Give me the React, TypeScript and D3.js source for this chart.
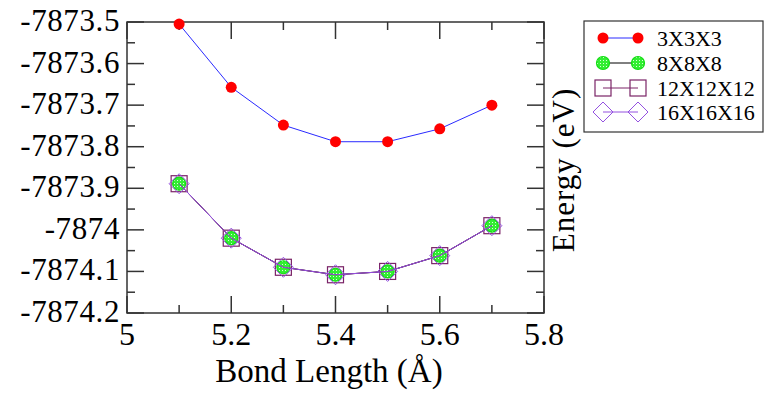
import React from "react";
import * as d3 from "d3";

const bondLengths = [5.1, 5.2, 5.3, 5.4, 5.5, 5.6, 5.7];
const k3 = [-7873.505, -7873.657, -7873.748, -7873.788, -7873.788, -7873.757, -7873.7];
const k8 = [-7873.889, -7874.02, -7874.09, -7874.108, -7874.1, -7874.062, -7873.99];
const k12 = [-7873.889, -7874.02, -7874.09, -7874.108, -7874.1, -7874.062, -7873.99];
const k16 = [-7873.889, -7874.02, -7874.09, -7874.108, -7874.1, -7874.062, -7873.99];
const xTicks = [5, 5.2, 5.4, 5.6, 5.8];
const yTicks = [-7873.5, -7873.6, -7873.7, -7873.8, -7873.9, -7874, -7874.1, -7874.2];
const seriesNames = ["3X3X3", "8X8X8", "12X12X12", "16X16X16"];

const W = 768, H = 398;
const L = 127, R = 544, T = 22, B = 313;
const font = "'Liberation Serif', 'Times New Roman', serif";

type Kind = "circle" | "dotted" | "square" | "diamond";
const styles: { line: string; kind: Kind }[] = [
  { line: "#2a2aff", kind: "circle" },
  { line: "#000000", kind: "dotted" },
  { line: "#7a2367", kind: "square" },
  { line: "#9450e0", kind: "diamond" },
];

function Marker({ kind, x, y }: { kind: Kind; x: number; y: number }) {
  if (kind === "circle") return <circle cx={x} cy={y} r={5.5} fill="#ff0000" />;
  if (kind === "dotted")
    return (
      <g>
        <circle cx={x} cy={y} r={6.5} fill="url(#gpat)" stroke="#11dd11" strokeWidth={1.2} />
      </g>
    );
  if (kind === "square")
    return <rect x={x - 8} y={y - 8} width={16} height={16} fill="none" stroke="#7a2367" strokeWidth={1.2} />;
  const d = 10;
  return (
    <path
      d={`M${x},${y - d}L${x + d},${y}L${x},${y + d}L${x - d},${y}Z`}
      fill="none"
      stroke="#9450e0"
      strokeWidth={1}
    />
  );
}

export default function App() {
  const x = d3.scaleLinear().domain([5, 5.8]).range([L, R]);
  const y = d3.scaleLinear().domain([-7874.2, -7873.5]).range([B, T]);
  const all = [k3, k8, k12, k16];
  const line = d3
    .line<number>()
    .x((_, i) => x(bondLengths[i]))
    .y((v) => y(v));

  const xMinor = d3.range(5, 5.81, 0.1);
  const yMinor = d3.range(-7874.2, -7873.49, 0.05);
  const isMajorX = (v: number) => Math.abs(Math.round(v * 5) - v * 5) < 1e-6;
  const isMajorY = (v: number) => Math.abs(Math.round(v * 10) - v * 10) < 1e-4;

  const legendY = [38, 63, 88, 112];

  return (
    <svg width={W} height={H} style={{ position: "absolute", left: 0, top: 0, background: "#fff" }}>
      <defs>
        <pattern id="gpat" width="3" height="3" patternUnits="userSpaceOnUse">
          <rect width="3" height="3" fill="#33ee33" />
          <rect width="1" height="1" fill="#d8ffd8" />
        </pattern>
      </defs>
      <rect x={0} y={0} width={W} height={H} fill="#fff" />
      {/* ticks */}
      <g stroke="#333" strokeWidth={1.5}>
        {xMinor.map((v, i) => {
          const len = isMajorX(v) ? 17 : 8;
          return (
            <g key={"xt" + i}>
              <line x1={x(v)} x2={x(v)} y1={B} y2={B - len} />
              <line x1={x(v)} x2={x(v)} y1={T} y2={T + len} />
            </g>
          );
        })}
        {yMinor.map((v, i) => {
          const len = isMajorY(v) ? 17 : 8;
          return (
            <g key={"yt" + i}>
              <line x1={L} x2={L + len} y1={y(v)} y2={y(v)} />
              <line x1={R} x2={R - len} y1={y(v)} y2={y(v)} />
            </g>
          );
        })}
      </g>
      <rect x={L} y={T} width={R - L} height={B - T} fill="none" stroke="#333" strokeWidth={1.5} />
      {/* series */}
      {all.map((s, si) => (
        <g key={"s" + si}>
          <path d={line(s) || ""} fill="none" stroke={styles[si].line} strokeWidth={1} />
          {s.map((v, i) => (
            <Marker key={i} kind={styles[si].kind} x={x(bondLengths[i])} y={y(v)} />
          ))}
        </g>
      ))}
      {/* tick labels */}
      <g fontFamily={font} fontSize={31} fill="#000">
        {yTicks.map((v, i) => (
          <text key={"yl" + i} x={120} y={y(v) + 9} textAnchor="end" letterSpacing={0.6}>
            {String(v)}
          </text>
        ))}
        {xTicks.map((v, i) => (
          <text key={"xl" + i} x={x(v)} y={345} textAnchor="middle" fontSize={32}>
            {String(v)}
          </text>
        ))}
      </g>
      <text x={329} y={382} textAnchor="middle" fontFamily={font} fontSize={33} fill="#000">
        Bond Length (Å)
      </text>
      <text
        transform="translate(574,170) rotate(-90)"
        textAnchor="middle"
        fontFamily={font}
        fontSize={31}
        fill="#000"
        letterSpacing={1}
      >
        Energy (eV)
      </text>
      {/* legend */}
      <rect x={584} y={21} width={179} height={111} fill="#fff" stroke="#333" strokeWidth={1.2} />
      {seriesNames.map((n, i) => (
        <g key={"lg" + i}>
          <line x1={603} x2={638} y1={legendY[i]} y2={legendY[i]} stroke={styles[i].line} strokeWidth={1} />
          <Marker kind={styles[i].kind} x={603} y={legendY[i]} />
          <Marker kind={styles[i].kind} x={638} y={legendY[i]} />
          <text x={657} y={legendY[i] + 7.5} fontFamily={font} fontSize={22} fill="#000">
            {n}
          </text>
        </g>
      ))}
    </svg>
  );
}
